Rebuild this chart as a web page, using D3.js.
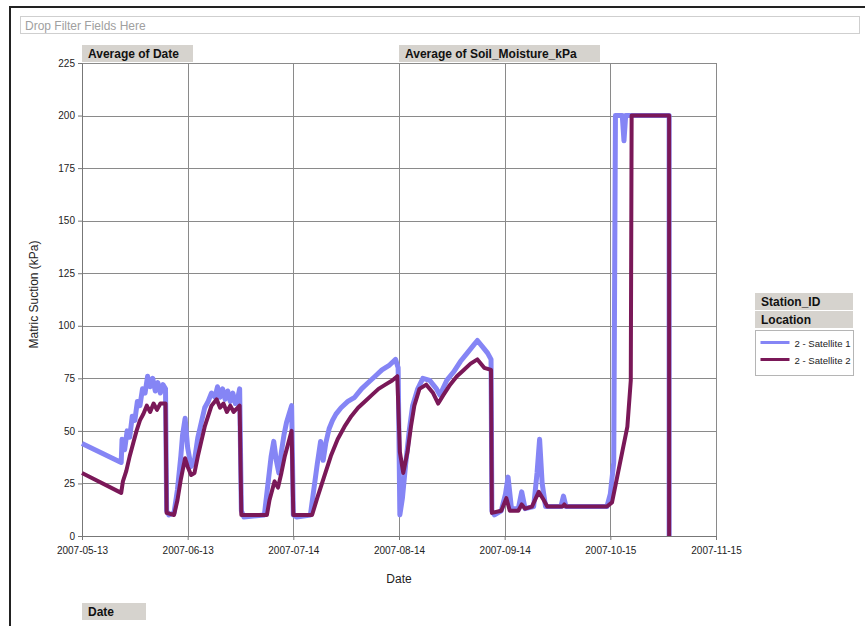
<!DOCTYPE html>
<html>
<head>
<meta charset="utf-8">
<script src="https://cdn.jsdelivr.net/npm/d3@7"></script>
<style>
  body { margin: 0; background: #fff; }
  text { font-family: "Liberation Sans", Arial, sans-serif; }
</style>
</head>
<body>
<div id="body"></div>
<script>
// tick labels along the date axis (every 31 days)
const xTickLabels = ["2007-05-13", "2007-06-13", "2007-07-14", "2007-08-14", "2007-09-14", "2007-10-15", "2007-11-15"];
const yTicks = [0, 25, 50, 75, 100, 125, 150, 175, 200, 225];
const seriesNames = ["2 - Satellite 1", "2 - Satellite 2"];

// Satellite 1, [date hour, kPa]
const satellite1 = [
	["2007-05-13 00", 44], ["2007-05-24 12", 35], ["2007-05-24 18", 46], ["2007-05-25 12", 41],
	["2007-05-26 06", 50], ["2007-05-27 00", 47], ["2007-05-27 18", 57], ["2007-05-28 12", 55],
	["2007-05-29 06", 64], ["2007-05-30 00", 62], ["2007-05-30 18", 70], ["2007-05-31 12", 68],
	["2007-06-01 06", 76], ["2007-06-02 00", 71], ["2007-06-02 18", 75], ["2007-06-03 12", 69],
	["2007-06-04 06", 73], ["2007-06-05 00", 68], ["2007-06-05 18", 72], ["2007-06-06 12", 70],
	["2007-06-06 20", 12], ["2007-06-07 12", 10], ["2007-06-09 00", 11], ["2007-06-10 00", 22],
	["2007-06-11 00", 38], ["2007-06-11 12", 48], ["2007-06-12 06", 56], ["2007-06-13 00", 42],
	["2007-06-14 00", 33], ["2007-06-15 00", 36], ["2007-06-16 00", 47], ["2007-06-17 00", 54],
	["2007-06-18 00", 61], ["2007-06-19 00", 64], ["2007-06-20 00", 68], ["2007-06-21 00", 66],
	["2007-06-21 18", 71], ["2007-06-22 12", 66], ["2007-06-23 06", 70], ["2007-06-24 00", 65],
	["2007-06-24 18", 69], ["2007-06-25 12", 64], ["2007-06-26 06", 68], ["2007-06-27 00", 63],
	["2007-06-27 18", 66], ["2007-06-28 06", 70], ["2007-06-28 18", 12], ["2007-06-29 12", 9],
	["2007-07-05 12", 10], ["2007-07-06 12", 24], ["2007-07-07 12", 38], ["2007-07-08 06", 45],
	["2007-07-09 00", 36], ["2007-07-09 18", 30], ["2007-07-10 12", 40], ["2007-07-11 06", 48],
	["2007-07-12 00", 54], ["2007-07-12 18", 58], ["2007-07-13 12", 62], ["2007-07-14 00", 10],
	["2007-07-15 00", 9], ["2007-07-19 00", 10], ["2007-07-20 00", 22], ["2007-07-21 00", 34],
	["2007-07-22 00", 45], ["2007-07-22 18", 36], ["2007-07-23 12", 44], ["2007-07-24 12", 51],
	["2007-07-25 12", 55], ["2007-07-26 12", 58], ["2007-07-28 00", 61], ["2007-07-30 00", 64],
	["2007-08-01 00", 66], ["2007-08-03 00", 70], ["2007-08-05 00", 73], ["2007-08-07 00", 76],
	["2007-08-09 00", 79], ["2007-08-11 00", 81], ["2007-08-13 00", 84], ["2007-08-13 18", 80],
	["2007-08-14 06", 10], ["2007-08-15 00", 18], ["2007-08-16 00", 35], ["2007-08-17 00", 50],
	["2007-08-18 00", 62], ["2007-08-19 12", 70], ["2007-08-21 00", 75], ["2007-08-23 00", 74],
	["2007-08-25 00", 70], ["2007-08-26 00", 67], ["2007-08-28 00", 74], ["2007-08-30 00", 78],
	["2007-09-01 00", 83], ["2007-09-03 00", 87], ["2007-09-05 00", 91], ["2007-09-06 00", 93],
	["2007-09-08 00", 89], ["2007-09-09 00", 87], ["2007-09-10 00", 84], ["2007-09-10 06", 12],
	["2007-09-11 00", 10], ["2007-09-13 00", 12], ["2007-09-14 06", 20], ["2007-09-15 00", 28],
	["2007-09-16 00", 13], ["2007-09-18 00", 13], ["2007-09-19 00", 21], ["2007-09-20 00", 13],
	["2007-09-22 12", 14], ["2007-09-23 12", 30], ["2007-09-24 06", 46], ["2007-09-25 00", 25],
	["2007-09-26 00", 14], ["2007-09-30 12", 14], ["2007-10-01 06", 19], ["2007-10-02 00", 14],
	["2007-10-14 00", 14], ["2007-10-15 00", 20], ["2007-10-16 00", 35], ["2007-10-16 12", 200],
	["2007-10-18 12", 200], ["2007-10-19 00", 188], ["2007-10-19 12", 200], ["2007-11-01 06", 200],
	["2007-11-01 06", 0]
];

// Satellite 2, [date hour, kPa]
const satellite2 = [
	["2007-05-13 00", 30], ["2007-05-24 12", 20.5], ["2007-05-25 00", 26], ["2007-05-26 00", 31],
	["2007-05-27 00", 38], ["2007-05-28 00", 44], ["2007-05-29 00", 50], ["2007-05-30 00", 55],
	["2007-05-31 00", 58], ["2007-06-01 00", 62], ["2007-06-02 00", 59], ["2007-06-03 00", 63],
	["2007-06-04 00", 60], ["2007-06-05 00", 63], ["2007-06-06 12", 63], ["2007-06-06 20", 11],
	["2007-06-09 00", 10], ["2007-06-10 00", 17], ["2007-06-11 00", 27], ["2007-06-12 06", 37],
	["2007-06-13 00", 33], ["2007-06-14 00", 29], ["2007-06-15 00", 30], ["2007-06-16 00", 38],
	["2007-06-17 00", 45], ["2007-06-18 00", 52], ["2007-06-19 00", 57], ["2007-06-20 00", 62],
	["2007-06-21 12", 65], ["2007-06-22 12", 61], ["2007-06-23 12", 63], ["2007-06-24 12", 59],
	["2007-06-25 12", 62], ["2007-06-26 12", 59], ["2007-06-28 06", 62], ["2007-06-28 18", 10],
	["2007-07-06 06", 10], ["2007-07-07 00", 17], ["2007-07-08 12", 26], ["2007-07-09 12", 23],
	["2007-07-10 12", 30], ["2007-07-11 12", 38], ["2007-07-12 12", 44], ["2007-07-13 12", 50],
	["2007-07-14 00", 10], ["2007-07-19 12", 10], ["2007-07-21 00", 18], ["2007-07-23 00", 28],
	["2007-07-25 00", 38], ["2007-07-27 00", 46], ["2007-07-29 00", 52], ["2007-07-31 00", 57],
	["2007-08-02 00", 61], ["2007-08-04 00", 64], ["2007-08-06 00", 67], ["2007-08-08 00", 70],
	["2007-08-10 00", 72], ["2007-08-12 00", 74], ["2007-08-13 12", 76], ["2007-08-14 06", 40],
	["2007-08-15 06", 30], ["2007-08-16 12", 40], ["2007-08-17 12", 52], ["2007-08-18 12", 62],
	["2007-08-20 00", 70], ["2007-08-22 00", 72], ["2007-08-24 00", 68], ["2007-08-25 12", 63],
	["2007-08-27 00", 67], ["2007-08-29 00", 72], ["2007-08-31 00", 76], ["2007-09-02 00", 79],
	["2007-09-04 00", 82], ["2007-09-06 00", 84], ["2007-09-08 00", 80], ["2007-09-10 00", 79],
	["2007-09-10 06", 11], ["2007-09-13 00", 12], ["2007-09-14 12", 18], ["2007-09-15 12", 12],
	["2007-09-18 00", 12], ["2007-09-19 00", 15], ["2007-09-20 00", 13], ["2007-09-22 00", 14],
	["2007-09-24 00", 21], ["2007-09-25 12", 17], ["2007-09-26 12", 14], ["2007-10-01 00", 14],
	["2007-10-01 12", 15], ["2007-10-02 00", 14], ["2007-10-14 00", 14], ["2007-10-15 12", 16],
	["2007-10-17 00", 28], ["2007-10-18 12", 40], ["2007-10-20 00", 52], ["2007-10-21 00", 74],
	["2007-10-21 06", 200], ["2007-11-01 06", 200], ["2007-11-01 06", 0]
];

const colors = ["#8585f5", "#7a1858"];

var parseHour = d3.timeParse("%Y-%m-%d %H"),
	parseDay = d3.timeParse("%Y-%m-%d");

const margin = {top: 63, right: 149, bottom: 90, left: 82};
var fullW = 865, fullH = 626;
var width = fullW - margin.left - margin.right,
	height = fullH - margin.top - margin.bottom;

var svg = d3.select("#body").append("svg")
	.attr("width", fullW).attr("height", fullH);

// outer frame
svg.append("rect").attr("x", 10).attr("y", 7).attr("width", 870).attr("height", 640)
	.attr("fill", "none").attr("stroke", "#222").attr("stroke-width", 2);

// filter drop zone
svg.append("rect").attr("x", 20.5).attr("y", 16.5).attr("width", 839).attr("height", 17)
	.attr("fill", "#fff").attr("stroke", "#cfcfcf");
svg.append("text").attr("x", 25).attr("y", 29.5).attr("font-size", 12).attr("fill", "#a0a0a0")
	.text("Drop Filter Fields Here");

function fieldButton(x, y, w, label){
	svg.append("rect").attr("x", x).attr("y", y).attr("width", w).attr("height", 17)
		.attr("fill", "#d6d3ce");
	svg.append("text").attr("x", x + 6).attr("y", y + 13).attr("font-size", 12)
		.attr("font-weight", "bold").attr("fill", "#111").text(label);
}

var g = svg.append("g").attr("transform", "translate(" + margin.left + "," + margin.top + ")");

var x = d3.scaleTime()
	.domain([parseDay(xTickLabels[0]), parseDay(xTickLabels[xTickLabels.length - 1])])
	.range([0, width]);
var y = d3.scaleLinear().domain([0, 225]).range([height, 0]);

// grid
g.append("g").selectAll("line").data(yTicks.slice(1)).enter().append("line")
	.attr("x1", 0).attr("x2", width)
	.attr("y1", d => Math.round(y(d)) + 0.5).attr("y2", d => Math.round(y(d)) + 0.5)
	.attr("stroke", "#8a8a8a");
g.append("g").selectAll("line").data(xTickLabels.slice(1)).enter().append("line")
	.attr("x1", d => Math.round(x(parseDay(d))) + 0.5).attr("x2", d => Math.round(x(parseDay(d))) + 0.5)
	.attr("y1", 0).attr("y2", height)
	.attr("stroke", "#8a8a8a");

// axes
var xAxis = d3.axisBottom(x).tickValues(xTickLabels.map(parseDay))
	.tickFormat(d3.timeFormat("%Y-%m-%d")).tickSize(4).tickSizeOuter(0);
var yAxis = d3.axisLeft(y).tickValues(yTicks).tickSize(4).tickSizeOuter(0);

var xg = g.append("g").attr("transform", "translate(0," + height + ")").call(xAxis);
var yg = g.append("g").call(yAxis);
[xg, yg].forEach(function(a){
	a.select(".domain").attr("stroke", "#777");
	a.selectAll(".tick line").attr("stroke", "#777");
	a.selectAll(".tick text").attr("font-size", 10).attr("fill", "#222")
		.attr("font-family", "\"Liberation Sans\", Arial, sans-serif");
});
xg.selectAll(".tick text").attr("dy", "1.05em");

// series
var line = d3.line().x(d => x(parseHour(d[0]))).y(d => y(d[1]));
[satellite1, satellite2].forEach(function(s, i){
	g.append("path").attr("d", line(s))
		.attr("fill", "none").attr("stroke", colors[i])
		.attr("stroke-width", i == 0 ? 5 : 4).attr("stroke-linejoin", "round");
});

// axis titles
g.append("text").attr("x", width / 2).attr("y", height + 47).attr("text-anchor", "middle")
	.attr("font-size", 12).attr("fill", "#222").text("Date");
g.append("text").attr("transform", "translate(" + (-44) + "," + (height / 2 - 5) + ") rotate(-90)")
	.attr("text-anchor", "middle").attr("font-size", 12).attr("fill", "#222")
	.text("Matric Suction (kPa)");

// field buttons
fieldButton(82, 45, 111, "Average of Date");
fieldButton(399, 45, 201, "Average of Soil_Moisture_kPa");
fieldButton(82, 603, 64, "Date");
fieldButton(755, 293, 98, "Station_ID");
fieldButton(755, 311, 98, "Location");

// legend
var legend = svg.append("g").attr("transform", "translate(755.5,330.5)");
legend.append("rect").attr("width", 98).attr("height", 45)
	.attr("fill", "#fff").attr("stroke", "#b5b5b5");
seriesNames.forEach(function(name, i){
	var ly = 12 + i * 17;
	legend.append("line").attr("x1", 5).attr("x2", 34).attr("y1", ly).attr("y2", ly)
		.attr("stroke", colors[i]).attr("stroke-width", 3);
	legend.append("text").attr("x", 39).attr("y", ly + 4).attr("font-size", 9.5)
		.attr("textLength", 56).attr("lengthAdjust", "spacingAndGlyphs")
		.attr("fill", "#222").text(name);
});
</script>
</body>
</html>
